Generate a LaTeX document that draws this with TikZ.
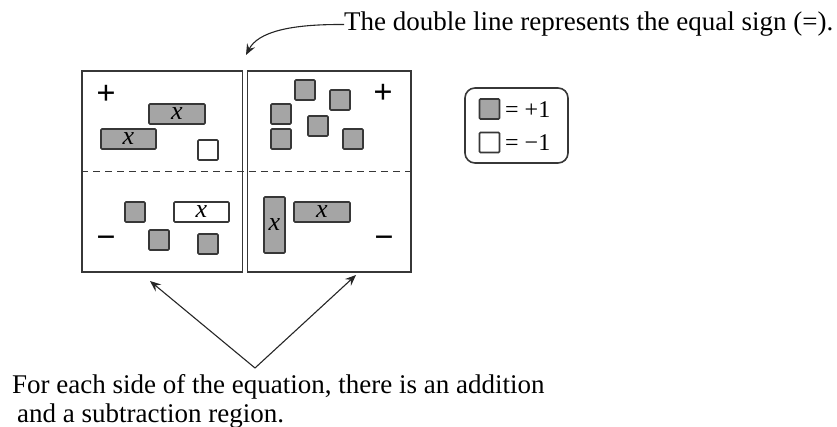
\documentclass[tikz,border=0pt]{standalone}
\usepackage{fontspec}
\setmainfont{Liberation Serif}
\usetikzlibrary{arrows.meta}
\definecolor{tilegray}{RGB}{165,165,165}
\definecolor{edgegray}{RGB}{55,55,55}
\tikzset{
  unittile/.style={draw=edgegray, line width=1.6pt, rounded corners=1pt, minimum width=20pt, minimum height=20pt, inner sep=0pt},
  plustile/.style={unittile, fill=tilegray},
  minustile/.style={unittile, fill=white},
  xtile/.style={draw=edgegray, line width=1.6pt, rounded corners=1pt, inner sep=0pt, font=\fontsize{26}{26}\selectfont\itshape},
  signtext/.style={inner sep=0pt, font=\fontsize{34}{34}\selectfont\bfseries},
  matframe/.style={draw=edgegray, line width=1.6pt},
  captiontext/.style={inner sep=0pt, font=\fontsize{27}{29}\selectfont},
  legendtext/.style={inner sep=0pt, anchor=west, font=\fontsize{24}{24}\selectfont},
  pointer/.style={draw=black!85, line width=1.1pt, -{Stealth[length=11pt,width=9pt,inset=4pt]}}
}
\begin{document}
\begin{tikzpicture}[x=1pt,y=-1pt]
\useasboundingbox (0,0) rectangle (837,427);
% main mat
\node[matframe, minimum width=160.5pt, minimum height=201pt, inner sep=0pt] (lefthalf) at (162.25,171.5) {};
\node[matframe, minimum width=163.5pt, minimum height=201pt, inner sep=0pt] (righthalf) at (329.25,171.5) {};
\draw[edgegray, line width=1.6pt, dash pattern=on 7pt off 5pt] (lefthalf.west) -- (righthalf.east);
% left: addition region
\node[signtext] (lplus) at (106,95) {+};
\node[xtile, fill=tilegray, minimum width=56pt, minimum height=20pt] (lx1) at (177,114) {x};
\node[xtile, fill=tilegray, minimum width=55pt, minimum height=20pt] (lx2) at (128.5,139) {x};
\node[minustile] (ln1) at (208,150) {};
% left: subtraction region
\node[plustile] (lp1) at (135,212) {};
\node[xtile, fill=white, minimum width=55pt, minimum height=20pt] (lx3) at (201.5,212) {x};
\node[signtext] (lminus) at (106,242) {−};
\node[plustile] (lp2) at (159,240) {};
\node[plustile] (lp3) at (208,244) {};
% right: addition region
\node[plustile] (rp1) at (305,90) {};
\node[plustile] (rp2) at (340,100) {};
\node[plustile] (rp3) at (281,114) {};
\node[plustile] (rp4) at (318,126) {};
\node[plustile] (rp5) at (281,139) {};
\node[plustile] (rp6) at (353,139) {};
\node[signtext] (rplus) at (383,94) {+};
% right: subtraction region
\node[xtile, fill=tilegray, minimum width=21pt, minimum height=56pt] (rx1) at (274.5,225) {x};
\node[xtile, fill=tilegray, minimum width=56pt, minimum height=20pt] (rx2) at (322,212) {x};
\node[signtext] (rminus) at (384,242) {−};
% legend
\node[draw=edgegray, line width=1.6pt, rounded corners=10pt, minimum width=103pt, minimum height=75pt, inner sep=0pt] (legend) at (516.5,125.5) {};
\node[plustile] (legpos) at (489.5,109) {};
\node[minustile] (legneg) at (489.5,142.5) {};
\node[legendtext] (legpostext) at (505,110) {= +1};
\node[legendtext] (legnegtext) at (505,143) {= −1};
% top label and arrow
\node[captiontext, anchor=base west] (toplabel) at (344,31) {The double line represents the equal sign (=).};
\coordinate (eqtop) at (246,55);
\draw[pointer] (toplabel.west) .. controls (290,24) and (258,32) .. (eqtop);
% bottom label and arrows
\node[captiontext, anchor=base west, align=left] (bottomlabel) at (12,422) {For each side of the equation, there is an addition\\\hspace*{5pt}and a subtraction region.};
\coordinate (apex) at (255,368);
\coordinate (lefttip) at (150,281);
\coordinate (righttip) at (356,275);
\draw[pointer] (apex) -- (lefttip);
\draw[pointer] (apex) -- (righttip);
\end{tikzpicture}
\end{document}
